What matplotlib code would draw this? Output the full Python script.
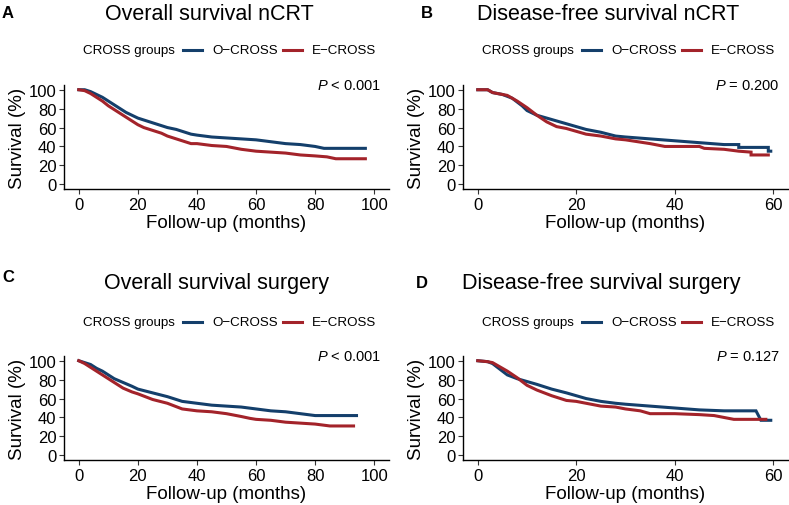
import matplotlib
matplotlib.use("Agg")
import matplotlib.pyplot as plt
from matplotlib.lines import Line2D

plt.rcParams['font.family'] = ['Liberation Sans', 'DejaVu Sans']
plt.rcParams['mathtext.fontset'] = 'custom'
plt.rcParams['mathtext.it'] = 'Liberation Sans:italic'
plt.rcParams['mathtext.rm'] = 'Liberation Sans'

BLUE = "#143f6b"
RED = "#a3232a"

# ---------------------
# Kaplan-Meier curves (months, survival %)
# ---------------------
os_ncrt_t_o = [0, 2, 4, 6, 8, 10, 12, 14, 16, 18, 20, 22, 25, 28, 30, 33, 36, 38, 40, 45, 50, 55, 60, 65, 70, 75, 80, 83, 97]
os_ncrt_s_o = [100, 100, 98, 95, 92, 88, 84, 80, 76, 73, 70, 68, 65, 62, 60, 58, 55, 53, 52, 50, 49, 48, 47, 45, 43, 42, 40, 38, 38]
os_ncrt_t_e = [0, 2, 4, 6, 8, 10, 12, 14, 16, 18, 20, 22, 25, 28, 30, 33, 36, 38, 40, 45, 50, 55, 60, 65, 70, 75, 80, 84, 87, 97]
os_ncrt_s_e = [100, 99, 96, 92, 88, 83, 79, 75, 71, 67, 63, 60, 57, 54, 51, 48, 45, 43, 43, 41, 40, 37, 35, 34, 33, 31, 30, 29, 27, 27]

dfs_ncrt_t_o = [0, 2, 3, 5, 7, 9, 10, 12, 14, 16, 18, 20, 22, 25, 28, 30, 35, 40, 45, 50, 53, 53, 59, 59, 59.5]
dfs_ncrt_s_o = [100, 100, 97, 95, 91, 83, 78, 73, 70, 67, 64, 61, 58, 55, 51, 50, 48, 46, 44, 42, 42, 39, 39, 35, 35]
dfs_ncrt_t_e = [0, 2, 3, 5, 6, 8, 10, 12, 14, 16, 18, 20, 22, 25, 28, 30, 35, 38, 45, 46, 50, 53, 55.5, 55.5, 59]
dfs_ncrt_s_e = [100, 100, 97, 95, 94, 88, 81, 73, 66, 61, 59, 56, 53, 51, 48, 47, 43, 40, 40, 38, 37, 35, 34, 31, 31]

os_surg_t_o = [0, 2, 4, 6, 8, 10, 12, 15, 18, 20, 25, 30, 33, 35, 40, 45, 50, 55, 60, 65, 70, 75, 80, 94]
os_surg_s_o = [100, 98, 96, 92, 89, 85, 81, 77, 73, 70, 66, 62, 59, 57, 55, 53, 52, 51, 49, 47, 46, 44, 42, 42]
os_surg_t_e = [0, 2, 4, 6, 8, 10, 12, 15, 18, 20, 25, 30, 35, 40, 45, 50, 55, 58, 60, 65, 70, 75, 80, 85, 93]
os_surg_s_e = [100, 97, 93, 89, 85, 81, 77, 71, 67, 65, 59, 55, 49, 47, 46, 44, 41, 39, 38, 37, 35, 34, 33, 31, 31]

dfs_surg_t_o = [0, 2, 3, 4, 6, 8, 10, 12, 15, 18, 20, 22, 25, 28, 30, 35, 40, 45, 50, 56.5, 57, 57.5, 59.5]
dfs_surg_s_o = [100, 99, 97, 93, 85, 81, 78, 75, 70, 66, 63, 60, 57, 55, 54, 52, 50, 48, 47, 47, 42, 37, 37]
dfs_surg_t_e = [0, 2, 3, 4, 6, 8, 10, 12, 15, 18, 20, 22, 25, 28, 30, 33, 35, 40, 45, 48, 50, 52, 58.5]
dfs_surg_s_e = [100, 99, 98, 95, 89, 82, 74, 69, 63, 58, 57, 55, 52, 51, 49, 47, 44, 44, 43, 42, 40, 38, 38]

titles = ["Overall survival nCRT", "Disease-free survival nCRT",
          "Overall survival surgery", "Disease-free survival surgery"]
letters = ["A", "B", "C", "D"]
pvals = ["< 0.001", "= 0.200", "< 0.001", "= 0.127"]
xmax = [100, 60, 100, 60]
xticks = [[0, 20, 40, 60, 80, 100], [0, 20, 40, 60], [0, 20, 40, 60, 80, 100], [0, 20, 40, 60]]
yticks = [0, 20, 40, 60, 80, 100]

curves = [
    (os_ncrt_t_o, os_ncrt_s_o, os_ncrt_t_e, os_ncrt_s_e),
    (dfs_ncrt_t_o, dfs_ncrt_s_o, dfs_ncrt_t_e, dfs_ncrt_s_e),
    (os_surg_t_o, os_surg_s_o, os_surg_t_e, os_surg_s_e),
    (dfs_surg_t_o, dfs_surg_s_o, dfs_surg_t_e, dfs_surg_s_e),
]

W, H = 789, 506
fig = plt.figure(figsize=(W / 100, H / 100), dpi=100)

# panel boxes in pixels: left, top, right, bottom
boxes = [(64, 86, 389, 190), (463, 86, 788, 190), (64, 357, 389, 461), (463, 357, 788, 461)]
title_pos = [(209, 14), (608, 14), (216, 283), (601, 284)]
letter_pos = [(2, 14), (421, 14), (2, 278), (416, 283)]
legend_y = [51, 51, 323, 323]
legend_dx = [0, 4, 0, 4]

for i in range(4):
    l, t, r, b = boxes[i]
    ax = fig.add_axes([l / W, 1 - b / H, (r - l) / W, (b - t) / H])
    to, so, te, se = curves[i]
    ax.plot(to, so, color=BLUE, lw=2.2, solid_joinstyle='miter')
    ax.plot(te, se, color=RED, lw=2.2, solid_joinstyle='miter')
    xm = xmax[i]
    ax.set_xlim(-0.05 * xm, 1.05 * xm)
    ax.set_ylim(-5, 105)
    ax.set_xticks(xticks[i])
    ax.set_yticks(yticks)
    for s in ['top', 'right']:
        ax.spines[s].set_visible(False)
    for s in ['left', 'bottom']:
        ax.spines[s].set_linewidth(1.0)
        ax.spines[s].set_color('black')
    ax.tick_params(labelsize=12, length=3.5, width=0.8, color='#333333',
                   labelcolor='black', pad=2)
    ax.set_xlabel("Follow-up (months)", fontsize=13.5, labelpad=2)
    ax.set_ylabel("Survival (%)", fontsize=13.5, labelpad=2)
    ax.text(0.975, 1.0, r"$\it{P}$ " + pvals[i], transform=ax.transAxes,
            ha='right', va='center', fontsize=10.5)

    # title and panel letter
    fig.text(title_pos[i][0] / W, 1 - title_pos[i][1] / H, titles[i],
             ha='center', va='center', fontsize=15.5)
    fig.text(letter_pos[i][0] / W, 1 - letter_pos[i][1] / H, letters[i],
             ha='left', va='center', fontsize=12, fontweight='bold')

    # legend row
    ox = 0 if i in (0, 2) else 395
    dx = legend_dx[i]
    ly = 1 - legend_y[i] / H
    fig.text((ox + 83 + dx) / W, ly, "CROSS groups", ha='left', va='center', fontsize=9.6)
    fig.add_artist(Line2D([(ox + 183 + dx) / W, (ox + 202 + dx) / W], [ly, ly],
                          color=BLUE, lw=2.2, transform=fig.transFigure))
    fig.text((ox + 212 + dx) / W, ly, "O\u2212CROSS", ha='left', va='center', fontsize=9.6)
    fig.add_artist(Line2D([(ox + 283 + dx) / W, (ox + 302 + dx) / W], [ly, ly],
                          color=RED, lw=2.2, transform=fig.transFigure))
    fig.text((ox + 312 + dx) / W, ly, "E\u2212CROSS", ha='left', va='center', fontsize=9.6)

fig.savefig("out.png", dpi=100)
